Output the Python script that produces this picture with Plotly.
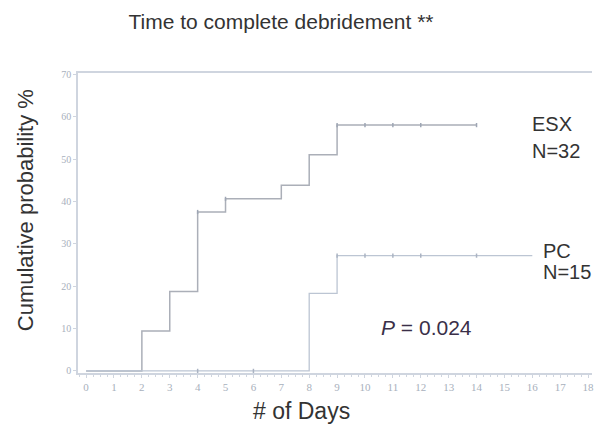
import plotly.graph_objects as go

# ---- data ----
esx_days = [0, 2, 3, 4, 5, 7, 8, 9, 14]
esx_prob = [0, 9.4, 18.75, 37.5, 40.6, 43.8, 51.0, 58.0, 58.0]
esx_censor_days = [4, 5, 9, 10, 11, 12, 14]
esx_censor_prob = [37.5, 40.6, 58.0, 58.0, 58.0, 58.0, 58.0]

pc_days = [0, 8, 9, 16]
pc_prob = [0, 18.3, 27.2, 27.2]
pc_censor_days = [4, 6, 9, 10, 11, 12, 14]
pc_censor_prob = [0, 0, 27.2, 27.2, 27.2, 27.2, 27.2]

x_ticks = list(range(0, 19))
y_ticks = [0, 10, 20, 30, 40, 50, 60, 70]

title_text = "Time to complete debridement **"
x_title = "# of Days"
y_title = "Cumulative probability %"

ESX_COL = "#abafb8"
PC_COL = "#bcc5d3"
AX_COL = "#cfd5df"
TXT = "#333333"
FONT = "Liberation Sans, Arial, sans-serif"

fig = go.Figure()
fig.add_trace(go.Scatter(x=esx_days, y=esx_prob, mode="lines", line_shape="hv",
                         line=dict(color=ESX_COL, width=1.5), showlegend=False))
fig.add_trace(go.Scatter(x=pc_days, y=pc_prob, mode="lines", line_shape="hv",
                         line=dict(color=PC_COL, width=1.3), showlegend=False))
fig.add_trace(go.Scatter(x=esx_censor_days, y=esx_censor_prob, mode="markers",
                         marker=dict(symbol="line-ns", size=3, line=dict(color="#9ea6b4", width=1.5)),
                         showlegend=False))
fig.add_trace(go.Scatter(x=pc_censor_days, y=pc_censor_prob, mode="markers",
                         marker=dict(symbol="line-ns", size=3, line=dict(color="#aab3c2", width=1.5)),
                         showlegend=False))

fig.update_layout(
    width=594, height=425,
    margin=dict(l=78, r=0, t=73, b=52),
    paper_bgcolor="white", plot_bgcolor="white",
    font=dict(family=FONT, color=TXT),
    title=dict(text=title_text, x=281/594, xref="container", xanchor="center",
               y=1-22/425, yref="container", yanchor="middle",
               font=dict(size=21, color=TXT, family=FONT)),
    xaxis=dict(range=[-0.29, 18.14], tickvals=x_ticks, ticktext=[str(v) for v in x_ticks],
               showgrid=False, zeroline=False, showline=True, linecolor=AX_COL, linewidth=1.5,
               mirror=True, ticks="outside", ticklen=3, tickcolor=AX_COL,
               ticklabeloverflow="allow",
               minor=dict(dtick=0.25, tick0=0, ticks="outside", ticklen=2, tickcolor=AX_COL),
               tickfont=dict(family="Liberation Serif, serif", size=11, color="#a8b0bc")),
    yaxis=dict(range=[-0.5, 70.3], tickvals=y_ticks, ticktext=[str(v) for v in y_ticks],
               showgrid=False, zeroline=False, showline=True, linecolor=AX_COL, linewidth=1.5,
               ticks="outside", ticklen=3, tickcolor=AX_COL,
               tickfont=dict(family="Liberation Serif, serif", size=10, color="#a8b0bc")),
    annotations=[
        dict(text=y_title, xref="paper", yref="paper", x=(25-78)/516, y=(373-210)/300,
             textangle=-90, showarrow=False, xanchor="center", yanchor="middle",
             font=dict(size=22, color=TXT)),
        dict(text=x_title, xref="paper", yref="paper", x=(302-78)/516, y=(373-411)/300,
             showarrow=False, xanchor="center", yanchor="middle",
             font=dict(size=23, color=TXT)),
        dict(text="ESX", x=15.93, y=58.2, showarrow=False, xanchor="left", yanchor="middle",
             font=dict(size=20, color=TXT)),
        dict(text="N=32", x=15.93, y=51.8, showarrow=False, xanchor="left", yanchor="middle",
             font=dict(size=20, color=TXT)),
        dict(text="PC", x=16.32, y=28.4, showarrow=False, xanchor="left", yanchor="middle",
             font=dict(size=20, color=TXT)),
        dict(text="N=15", x=16.32, y=23.4, showarrow=False, xanchor="left", yanchor="middle",
             font=dict(size=20, color=TXT)),
        dict(text="<i>P</i> = 0.024", x=10.5, y=10.2, showarrow=False, xanchor="left", yanchor="middle",
             font=dict(size=21, color="#3a2f48")),
    ],
)

fig.write_html("out.html", config={"displayModeBar": False},
               post_script="document.body.style.margin='0';document.body.style.overflow='hidden';")
